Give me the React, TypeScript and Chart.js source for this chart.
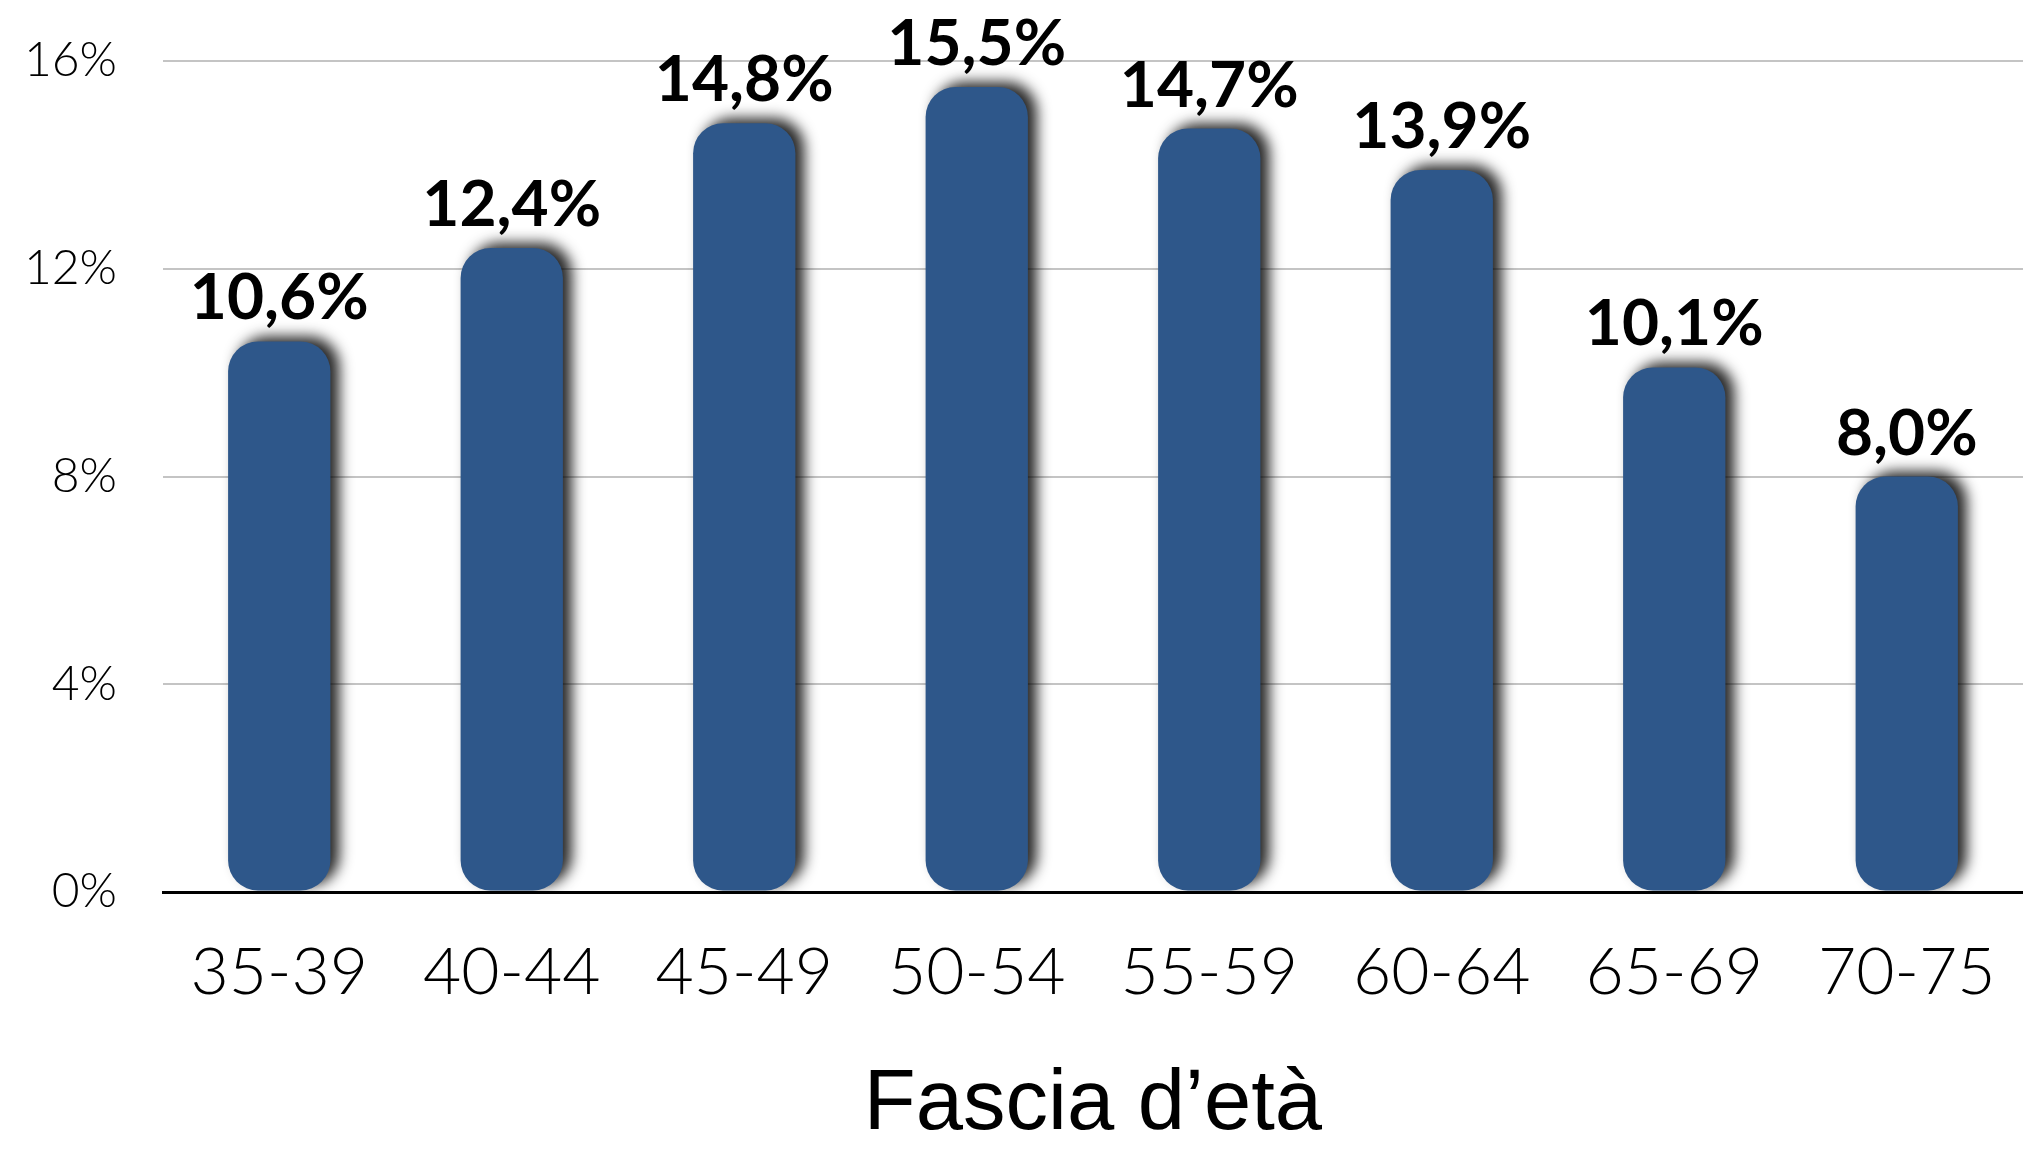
import React, { useEffect, useRef } from "react";
import { Chart, registerables } from "chart.js";

Chart.register(...registerables);

const categories = ["35-39", "40-44", "45-49", "50-54", "55-59", "60-64", "65-69", "70-75"];
const shares = [10.6, 12.4, 14.8, 15.5, 14.7, 13.9, 10.1, 8.0];
const yTicks = [0, 4, 8, 12, 16];
const axisTitle = "Fascia d’età";

const BAR_COLOR = "#2E578A";

const fmt = (v: number) => v.toFixed(1).replace(".", ",") + "%";

const shadowAndLabels = {
  id: "shadowAndLabels",
  beforeDatasetsDraw(chart: any) {
    const ctx = chart.ctx;
    ctx.save();
    ctx.shadowColor = "rgba(0,0,0,0.85)";
    ctx.shadowBlur = 14;
    ctx.shadowOffsetX = 9;
    ctx.shadowOffsetY = -5;
  },
  afterDatasetsDraw(chart: any) {
    const ctx = chart.ctx;
    ctx.restore();
    const meta = chart.getDatasetMeta(0);
    ctx.save();
    ctx.fillStyle = "#000";
    ctx.font = "700 64px Lato";
    ctx.textAlign = "center";
    ctx.textBaseline = "alphabetic";
    meta.data.forEach((el: any, i: number) => {
      ctx.fillText(fmt(shares[i]), el.x, el.y - 22);
    });
    ctx.restore();
  },
  afterDraw(chart: any) {
    const ctx = chart.ctx;
    const area = chart.chartArea;
    ctx.save();
    ctx.fillStyle = "#000";
    ctx.font = "85px 'Liberation Sans', Arial, sans-serif";
    ctx.textAlign = "center";
    ctx.textBaseline = "alphabetic";
    ctx.fillText(axisTitle, (area.left + area.right) / 2, 1129);
    ctx.restore();
  },
};

export default function App() {
  const ref = useRef<HTMLCanvasElement | null>(null);
  useEffect(() => {
    if (!ref.current) return;
    const chart = new Chart(ref.current, {
      type: "bar",
      data: {
        labels: categories,
        datasets: [
          {
            data: shares,
            backgroundColor: BAR_COLOR,
            borderRadius: 30,
            borderSkipped: false,
            categoryPercentage: 1,
            barPercentage: 0.44,
          },
        ],
      },
      options: {
        animation: false,
        responsive: false,
        devicePixelRatio: 1,
        layout: { padding: { top: 61, right: -10, left: 0, bottom: 0 } },
        plugins: { legend: { display: false }, tooltip: { enabled: false } },
        scales: {
          x: {
            grid: { display: false, drawTicks: false },
            border: { display: true, color: "#000", width: 3 },
            ticks: {
              color: "#000",
              font: { family: "Lato", size: 66, weight: 300, lineHeight: 1 },
              padding: 48,
              maxRotation: 0,
            },
            afterFit(scale: any) {
              scale.height = 261;
              scale.paddingLeft = 0;
              scale.paddingRight = 0;
            },
          },
          y: {
            min: 0,
            max: 16,
            afterBuildTicks(scale: any) {
              scale.ticks = yTicks.map((v) => ({ value: v }));
            },
            grid: {
              drawTicks: false,
              color: (c: any) => (c.tick && c.tick.value === 0 ? "#000" : "#c4c4c4"),
              lineWidth: (c: any) => (c.tick && c.tick.value === 0 ? 3 : 2),
            },
            border: { display: false },
            ticks: {
              color: "#000",
              font: { family: "Lato", size: 48, weight: 300 },
              padding: 46,
              callback: (v: any) => v + "%",
            },
            afterFit(scale: any) {
              scale.width = 163;
              scale.paddingTop = 0;
              scale.paddingBottom = 0;
            },
          },
        },
      },
      plugins: [shadowAndLabels],
    });
    return () => chart.destroy();
  }, []);
  return (
    <div style={{ position: "fixed", left: 0, top: 0, width: 2023, height: 1153, background: "#fff" }}>
      <canvas ref={ref} width={2023} height={1153} style={{ width: 2023, height: 1153, display: "block" }} />
    </div>
  );
}
